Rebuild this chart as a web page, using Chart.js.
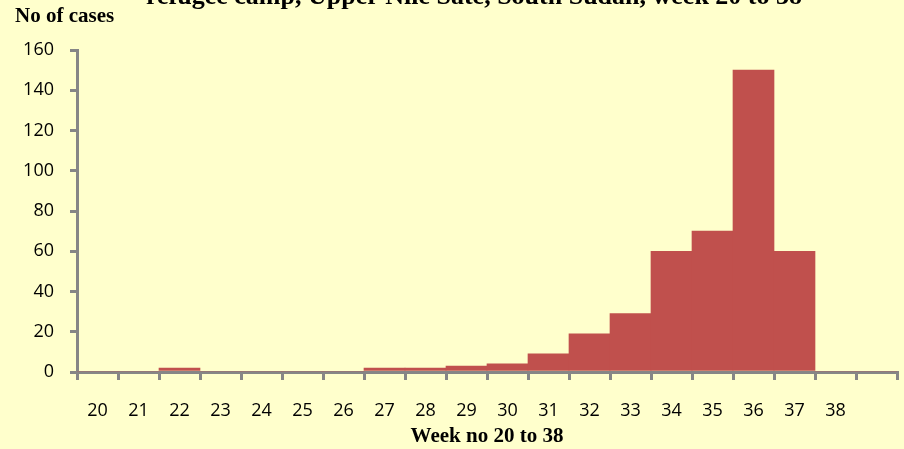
<!DOCTYPE html>
<html>
<head>
<meta charset="utf-8">
<script src="https://cdn.jsdelivr.net/npm/chart.js@4.4.1/dist/chart.umd.min.js"></script>
<style>
  html, body { margin: 0; padding: 0; background: #FFFFCC; }
  #wrap { width: 904px; height: 449px; position: relative; }
</style>
</head>
<body>
<div id="wrap"><canvas id="chartCases"></canvas></div>
<script>
// --- Dados ---
const weeks = ['20', '21', '22', '23', '24', '25', '26', '27', '28', '29', '30', '31', '32', '33', '34', '35', '36', '37', '38', ''];
const cases = [0, 0, 2, 0, 0, 0, 0, 2, 2, 3, 4, 9, 19, 29, 60, 70, 150, 60, 0, 0];
const yTicks = [0, 20, 40, 60, 80, 100, 120, 140, 160];

const titleText = 'refugee camp, Upper Nile Sate, South Sudan, week 20 to 38';
const yTitleText = 'No of cases';
const xTitleText = 'Week no 20 to 38';

const axisColor = '#868686';
const barColor = '#C0504D';

// Títulos desenhados à mão (o do topo está cortado na imagem original)
const headerPlugin = {
    id: 'header',
    afterDraw(chart) {
        const ctx = chart.ctx;
        ctx.save();
        ctx.fillStyle = '#000';
        ctx.textBaseline = 'alphabetic';
        ctx.font = 'bold 26px "Liberation Serif", "Times New Roman", serif';
        ctx.textAlign = 'center';
        ctx.fillText(titleText, 474, 4);
        ctx.font = 'bold 21px "Liberation Serif", "Times New Roman", serif';
        ctx.textAlign = 'left';
        ctx.fillText(yTitleText, 15, 22);
        ctx.restore();
    }
};

new Chart(document.getElementById('chartCases'), {
    type: 'bar',
    data: {
        labels: weeks,
        datasets: [{
            label: 'Cases',
            data: cases,
            backgroundColor: barColor,
            borderWidth: 0,
            barPercentage: 1,
            categoryPercentage: 1
        }]
    },
    options: {
        responsive: true,
        maintainAspectRatio: false,
        animation: false,
        layout: { padding: { left: 0, right: 7, top: 50, bottom: 0 } },
        plugins: {
            legend: { display: false },
            tooltip: { enabled: false }
        },
        scales: {
            x: {
                offset: true,
                grid: {
                    offset: true,
                    drawOnChartArea: false,
                    drawTicks: true,
                    tickLength: 8,
                    color: axisColor,
                    lineWidth: 3
                },
                border: { color: axisColor, width: 3 },
                ticks: {
                    color: '#000',
                    padding: 20,
                    maxRotation: 0,
                    autoSkip: false,
                    font: { family: '"Open Sans", sans-serif', size: 18 }
                },
                title: {
                    display: true,
                    text: xTitleText,
                    color: '#000',
                    padding: { top: 0, bottom: 0 },
                    font: { family: '"Liberation Serif", "Times New Roman", serif', size: 21, weight: 'bold' }
                },
                afterFit: (scale) => { scale.height = 77; }
            },
            y: {
                min: 0,
                max: 160,
                afterBuildTicks: (scale) => { scale.ticks = yTicks.map(v => ({ value: v })); },
                grid: {
                    drawOnChartArea: false,
                    drawTicks: true,
                    tickLength: 7,
                    color: axisColor,
                    lineWidth: 3
                },
                border: { color: axisColor, width: 3 },
                ticks: {
                    color: '#000',
                    padding: 16,
                    font: { family: '"Open Sans", sans-serif', size: 18 }
                },
                afterFit: (scale) => { scale.width = 77; }
            }
        }
    },
    plugins: [headerPlugin]
});
</script>
</body>
</html>
